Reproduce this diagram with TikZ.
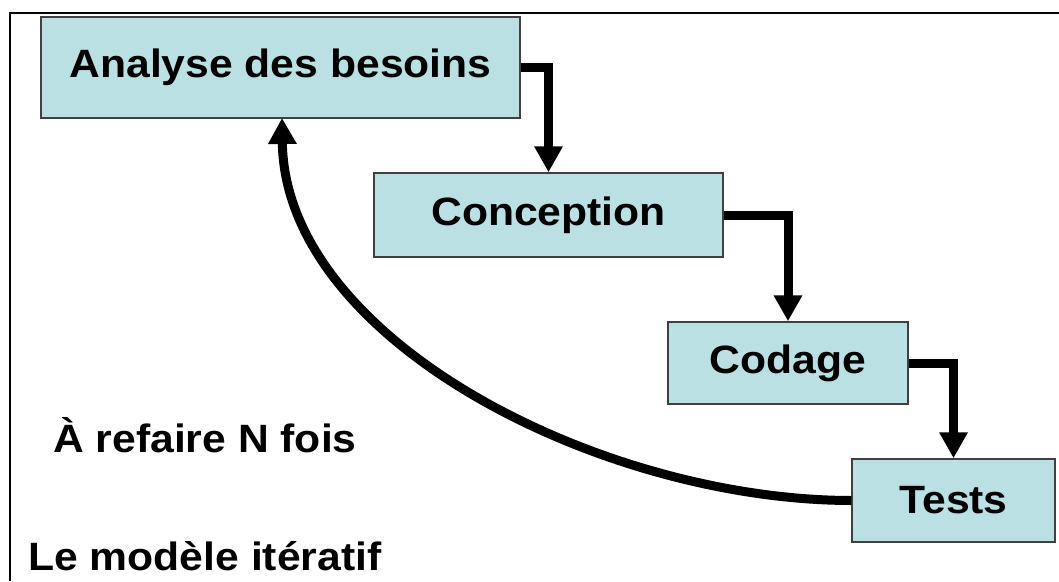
\documentclass[tikz,border=0pt]{standalone}
\usepackage{fontspec}
\setmainfont{Liberation Sans}[FakeStretch=1.08]
\usetikzlibrary{arrows.meta}
\definecolor{boxfill}{RGB}{187,224,227}
\definecolor{boxline}{RGB}{64,64,64}
\tikzset{
  stage/.style={draw=boxline, line width=1.5pt, fill=boxfill, inner sep=0pt,
    font=\fontsize{39.5}{42}\selectfont\bfseries},
  flow/.style={line width=9pt, -{Triangle[length=26pt,width=27pt]}},
  caption/.style={anchor=base west, inner sep=0pt, font=\fontsize{39.5}{42}\selectfont\bfseries}
}
\begin{document}
\begin{tikzpicture}[x=1pt,y=-1pt]
\useasboundingbox (0,0) rectangle (1059,581);
\draw[line width=2.5pt] (10,581) -- (10,13) -- (1059,13);
\node[stage, minimum width=479pt, minimum height=101pt] (a) at (280.5,67.5) {Analyse des besoins};
\node[stage, minimum width=349pt, minimum height=84pt] (b) at (548.5,215) {Conception};
\node[stage, minimum width=240pt, minimum height=82pt] (c) at (788,363) {Codage};
\node[stage, minimum width=203pt, minimum height=83pt] (d) at (953.5,500.5) {Tests};
\draw[flow] (a.east) -| (b.north);
\draw[flow] (b.east) -| (c.north);
\draw[flow] (c.east) -| (d.north);
\coordinate (t) at (282,118);
\draw[flow] (d.west) .. controls (600,500) and (285,340) .. (t);
\node[caption] (r) at (53,452) {À refaire N fois};
\node[caption] (m) at (28,570) {Le modèle itératif};
\end{tikzpicture}
\end{document}
